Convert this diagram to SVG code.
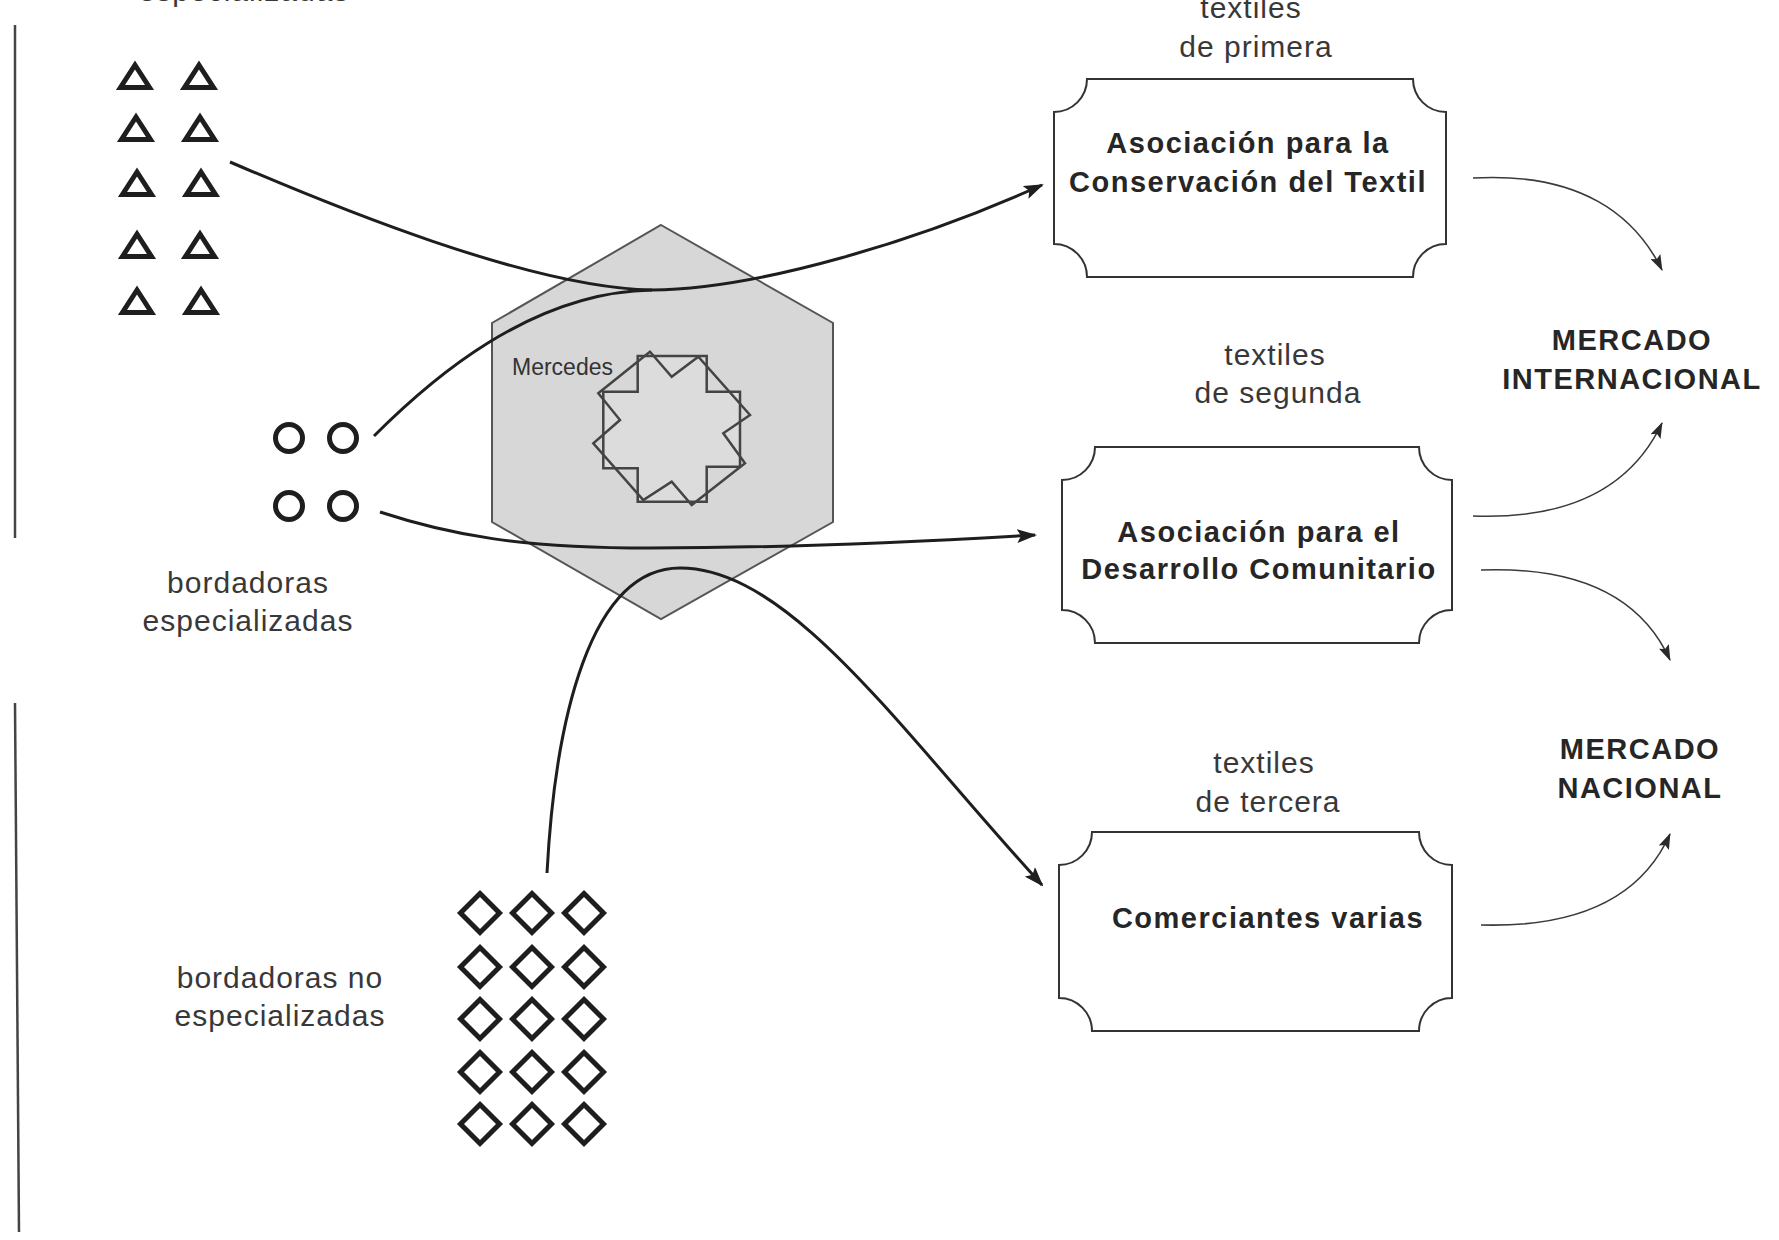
<svg xmlns="http://www.w3.org/2000/svg" width="1779" height="1240" viewBox="0 0 1779 1240">
<defs>
<style>
.lbl{font-family:"Liberation Sans",Arial,sans-serif;font-size:30px;letter-spacing:1px;fill:#383838;text-anchor:middle}
.blbl{font-family:"Liberation Sans",Arial,sans-serif;font-size:29px;font-weight:bold;letter-spacing:1.5px;fill:#262626;text-anchor:middle}
.box{fill:#fff;stroke:#333;stroke-width:2}
.tri,.circ,.dia{fill:none;stroke:#1e1e1e;stroke-width:5;stroke-linejoin:miter}
.main{fill:none;stroke:#1e1e1e;stroke-width:3}
.thin{fill:none;stroke:#3a3a3a;stroke-width:1.6}
.edge{stroke:#444;stroke-width:2.5}
</style>
<marker id="ab" viewBox="0 0 20 14" refX="18" refY="7" markerWidth="20" markerHeight="14" markerUnits="userSpaceOnUse" orient="auto">
<path d="M0,0 L20,7 L0,14 L4,7 Z" fill="#1e1e1e"/>
</marker>
<marker id="as" viewBox="0 0 16 11" refX="15" refY="5.5" markerWidth="16" markerHeight="11" markerUnits="userSpaceOnUse" orient="auto">
<path d="M0,0 L16,5.5 L0,11 L3,5.5 Z" fill="#2a2a2a"/>
</marker>
<path id="t" d="M0,-11 L14.5,11.5 L-14.5,11.5 Z"/>
<path id="d" d="M0,-19.5 L19.5,0 L0,19.5 L-19.5,0 Z"/>
</defs>
<rect width="1779" height="1240" fill="#fff"/>

<g id="frame-lines">
<line class="edge" x1="15" y1="25" x2="15" y2="538"/>
<line class="edge" x1="15" y1="703" x2="19" y2="1232"/>
</g>

<g id="especializadas-top">
<text class="lbl" x="244" y="1">especializadas</text>
</g>

<g id="triangles">
<use href="#t" class="tri" x="135" y="76"/><use href="#t" class="tri" x="199" y="76"/>
<use href="#t" class="tri" x="136" y="128"/><use href="#t" class="tri" x="200" y="128"/>
<use href="#t" class="tri" x="137" y="183"/><use href="#t" class="tri" x="201" y="183"/>
<use href="#t" class="tri" x="137" y="245"/><use href="#t" class="tri" x="200" y="245"/>
<use href="#t" class="tri" x="137" y="301"/><use href="#t" class="tri" x="201" y="301"/>
</g>

<g id="bordadoras-especializadas">
<circle class="circ" cx="289" cy="438" r="13.5"/><circle class="circ" cx="343" cy="438" r="13.5"/>
<circle class="circ" cx="289" cy="506" r="13.5"/><circle class="circ" cx="343" cy="506" r="13.5"/>
<text class="lbl" x="248" y="593">bordadoras</text>
<text class="lbl" x="248" y="631">especializadas</text>
</g>

<g id="bordadoras-no-especializadas">
<text class="lbl" x="280" y="988">bordadoras no</text>
<text class="lbl" x="280" y="1026">especializadas</text>
<use href="#d" class="dia" x="480" y="913"/><use href="#d" class="dia" x="532" y="913"/><use href="#d" class="dia" x="584" y="913"/>
<use href="#d" class="dia" x="480" y="967"/><use href="#d" class="dia" x="532" y="967"/><use href="#d" class="dia" x="584" y="967"/>
<use href="#d" class="dia" x="480" y="1019"/><use href="#d" class="dia" x="532" y="1019"/><use href="#d" class="dia" x="584" y="1019"/>
<use href="#d" class="dia" x="480" y="1072"/><use href="#d" class="dia" x="532" y="1072"/><use href="#d" class="dia" x="584" y="1072"/>
<use href="#d" class="dia" x="480" y="1124"/><use href="#d" class="dia" x="532" y="1124"/><use href="#d" class="dia" x="584" y="1124"/>
</g>

<g id="mercedes">
<polygon points="661,225 833,323 833,522 661,619 492,522 492,323" fill="#d7d7d7" stroke="#555" stroke-width="2"/>
<polygon points="637.7,356 706.7,356 706.7,391.7 740,391.7 740,466.7 706.7,466.7 706.7,501.7 637.7,501.7 637.7,468.3 603.3,468.3 603.3,391.7 637.7,391.7" fill="#e2e2e2" fill-opacity="0.5" stroke="#444" stroke-width="2.5"/>
<polygon points="650,351.7 671.7,376.7 698.3,356.7 750,415 723.3,433.3 745,463.3 691.7,505 671.7,481.7 643.3,500 593.3,443.3 620,420 598.3,393.3" fill="none" stroke="#444" stroke-width="2.5"/>
<text x="512" y="375" font-family="Liberation Sans, Arial, sans-serif" font-size="23" fill="#333">Mercedes</text>
</g>

<g id="box-conservacion">
<text class="lbl" x="1251" y="18">textiles</text>
<text class="lbl" x="1256" y="57">de primera</text>
<path class="box" d="M1087,79 H1413 A33,33 0 0 0 1446,112 V244 A33,33 0 0 0 1413,277 H1087 A33,33 0 0 0 1054,244 V112 A33,33 0 0 0 1087,79 Z"/>
<text class="blbl" x="1248" y="153">Asociación para la</text>
<text class="blbl" x="1248" y="192">Conservación del Textil</text>
</g>

<g id="box-desarrollo">
<text class="lbl" x="1275" y="365">textiles</text>
<text class="lbl" x="1278" y="403">de segunda</text>
<path class="box" d="M1095,447 H1419 A33,33 0 0 0 1452,480 V610 A33,33 0 0 0 1419,643 H1095 A33,33 0 0 0 1062,610 V480 A33,33 0 0 0 1095,447 Z"/>
<text class="blbl" x="1259" y="542">Asociación para el</text>
<text class="blbl" x="1259" y="579">Desarrollo Comunitario</text>
</g>

<g id="box-comerciantes">
<text class="lbl" x="1264" y="773">textiles</text>
<text class="lbl" x="1268" y="812">de tercera</text>
<path class="box" d="M1092,832 H1419 A33,33 0 0 0 1452,865 V998 A33,33 0 0 0 1419,1031 H1092 A33,33 0 0 0 1059,998 V865 A33,33 0 0 0 1092,832 Z"/>
<text class="blbl" x="1268" y="928">Comerciantes varias</text>
</g>

<g id="mercado-internacional">
<text class="blbl" x="1632" y="350">MERCADO</text>
<text class="blbl" x="1632" y="389">INTERNACIONAL</text>
</g>

<g id="mercado-nacional">
<text class="blbl" x="1640" y="759">MERCADO</text>
<text class="blbl" x="1640" y="798">NACIONAL</text>
</g>

<g id="connectors">
<path class="main" d="M230,162 C330,205 530,288 652,290"/>
<path class="main" marker-end="url(#ab)" d="M374,436 C430,380 530,292 652,290 C760,289 920,240 1042,185"/>
<path class="main" marker-end="url(#ab)" d="M380,512 C450,535 520,548 650,548 C800,548 950,540 1035,535"/>
<path class="main" marker-end="url(#ab)" d="M547,873 C555,720 590,568 680,568 C790,568 900,730 1042,885"/>
<path class="thin" marker-end="url(#as)" d="M1473,178 C1580,172 1635,215 1662,270"/>
<path class="thin" marker-end="url(#as)" d="M1473,516 C1580,520 1635,480 1662,423"/>
<path class="thin" marker-end="url(#as)" d="M1481,570 C1590,566 1645,605 1670,660"/>
<path class="thin" marker-end="url(#as)" d="M1481,925 C1590,928 1645,890 1670,834"/>
</g>
</svg>
